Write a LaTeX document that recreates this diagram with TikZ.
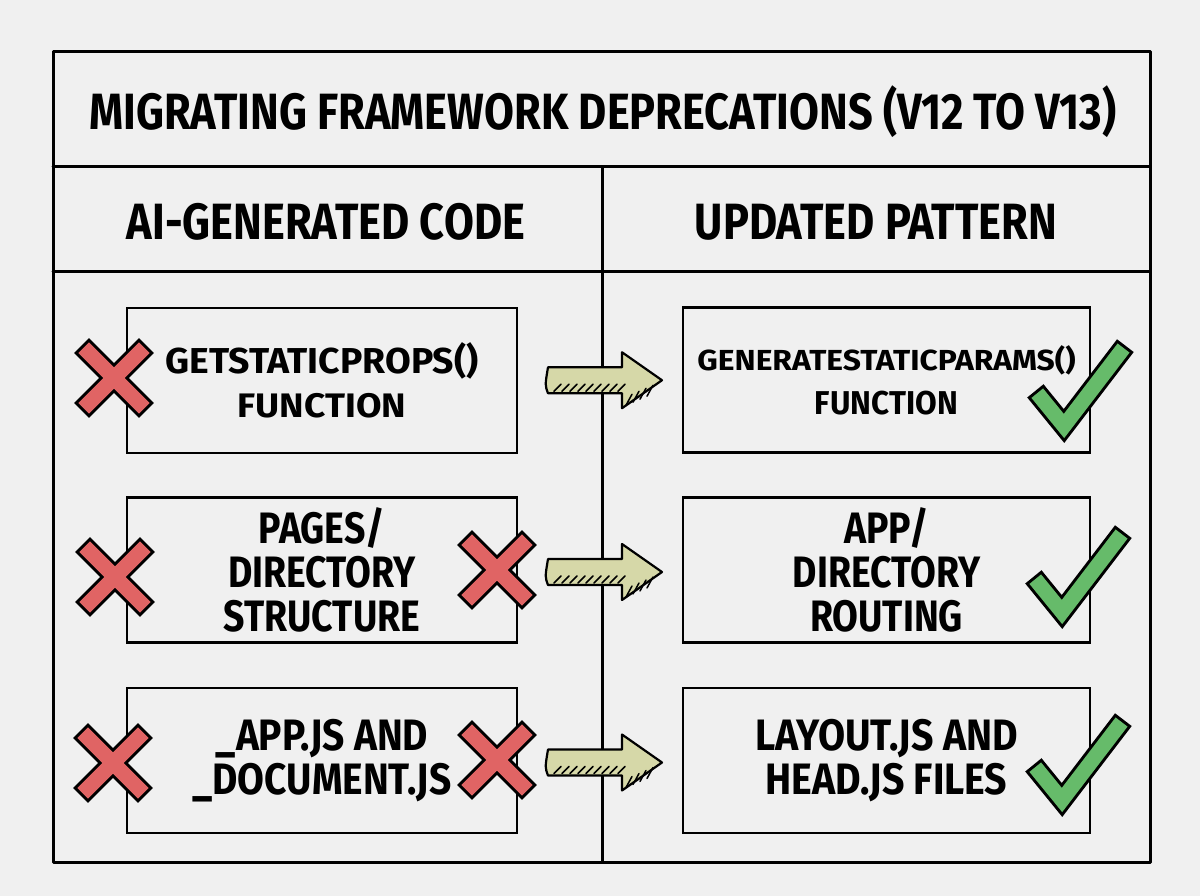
\documentclass[tikz,border=0pt]{standalone}
\usepackage{fontspec}
\setmainfont{Fira Sans}[UprightFont={* Bold}, FakeStretch=0.85]
\usetikzlibrary{calc}
\definecolor{bgc}{HTML}{F0F0F0}
\definecolor{xred}{HTML}{E06464}
\definecolor{okgreen}{HTML}{66BB6A}
\definecolor{arrowc}{HTML}{D6D8A8}
\newcommand{\wide}[2]{\scalebox{#1}[1]{#2}}
\tikzset{
  rule/.style={line width=3pt, line cap=round},
  box/.style={draw, line width=2.8pt, minimum width=390pt, minimum height=145pt,
    align=center, inner sep=0pt, font=\fontsize{44}{44}\selectfont},
  rbox/.style={box, minimum width=407pt},
  head/.style={font=\fontsize{51}{56}\selectfont, inner sep=0pt},
  crossmark/.pic={
    \draw[line width=21pt, line cap=rect] (-25,-25) -- (25,25) (-25,25) -- (25,-25);
    \draw[xred, line width=15pt, line cap=rect] (-25,-25) -- (25,25) (-25,25) -- (25,-25);
  },
  checkmark/.pic={
    \draw[line width=21pt, line cap=rect, line join=miter] (-22,-27) -- (0,0) -- (55,-72);
    \draw[okgreen, line width=15pt, line cap=rect, line join=miter] (-22,-27) -- (0,0) -- (55,-72);
  },
  blockarrow/.pic={
    \draw[line width=2.2pt, fill=arrowc, line join=round]
      (-52,-13) -- (22,-13) -- (22,-28) -- (62,0) -- (22,28) -- (22,13) -- (-52,13)
      .. controls (-55,5) .. cycle;
    \foreach \i in {0,...,8}
      \draw[line width=1.5pt, line cap=round] (-46+\i*8,11) -- (-39+\i*8,4);
    \foreach \i in {0,...,3}
      \draw[line width=1.5pt, line cap=round] (26+\i*7,25-\i*3) -- (32+\i*7,14-\i*3);
  }
}
\begin{document}
\begin{tikzpicture}[x=1pt,y=-1pt]
\useasboundingbox (0,0) rectangle (1200,896);
\fill[bgc] (0,0) rectangle (1200,896);

% frame and grid
\coordinate (tl) at (53,52);
\coordinate (br) at (1150,862);
\draw[rule, line join=round] (tl) rectangle (br);
\coordinate (t1) at (53,167);  \coordinate (t2) at (1150,167);
\coordinate (h1) at (53,272);  \coordinate (h2) at (1150,272);
\coordinate (v1) at (602,167); \coordinate (v2) at (602,862);
\draw[rule] (t1) -- (t2);
\draw[rule] (h1) -- (h2);
\draw[rule] (v1) -- (v2);

% title and headers
\node[head] (title) at (603,112) {MIGRATING FRAMEWORK DEPRECATIONS (V12 TO V13)};
\node[head] (hleft) at (326,222) {AI-GENERATED CODE};
\node[head] (hright) at (876,222) {UPDATED PATTERN};

% left boxes
\node[box] (l1) at (322,380.5) {{\fontsize{36}{44}\selectfont\wide{1.22}{GETSTATICPROPS()}}\\{\fontsize{34}{40}\selectfont\wide{1.28}{FUNCTION}}};
\node[box] (l2) at (322,570) {PAGES/\\DIRECTORY\\STRUCTURE};
\node[box] (l3) at (322,760.5) {\wide{1.04}{\_APP.JS AND}\\\wide{1.04}{\_DOCUMENT.JS}};

% right boxes
\node[rbox] (r1) at (886.5,380) {{\fontsize{29}{35}\selectfont\wide{1.29}{GENERATESTATICPARAMS()}}\\{\fontsize{33}{35}\selectfont\wide{1.12}{FUNCTION}}};
\node[rbox] (r2) at (886.5,570) {APP/\\DIRECTORY\\ROUTING};
\node[rbox] (r3) at (886.5,760.5) {\wide{1.05}{LAYOUT.JS AND}\\\wide{1.05}{HEAD.JS FILES}};

% arrows between columns
\path ($(l1.east)!0.5!(r1.west)$) pic {blockarrow};
\path ($(l2.east)!0.5!(r2.west)$) ++(0,2) pic {blockarrow};
\path ($(l3.east)!0.5!(r3.west)$) ++(0,2) pic {blockarrow};

% crosses
\path (114,378) pic {crossmark};
\path (115,577) pic {crossmark};
\path (497,570) pic {crossmark};
\path (113,763) pic {crossmark};
\path (497,760) pic {crossmark};

% checks
\path (1064,426) pic {checkmark};
\path (1062,612) pic {checkmark};
\path (1062,800) pic {checkmark};
\end{tikzpicture}
\end{document}
